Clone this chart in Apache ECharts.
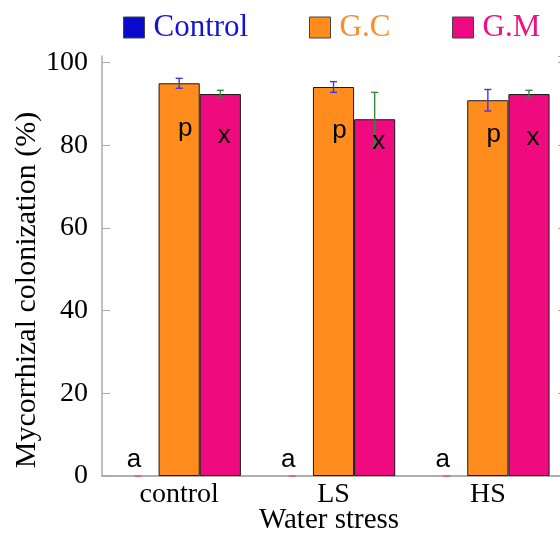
<!DOCTYPE html>
<html><head><meta charset="utf-8">
<script src="https://cdn.jsdelivr.net/npm/echarts@6/dist/echarts.min.js"></script>
<style>html,body{margin:0;padding:0;background:#fff}#c{width:560px;height:535px}</style>
</head><body><div id="c"></div>
<script>
// ---- data ----
const categories = ['control', 'LS', 'HS'];
const seriesNames = ['Control', 'G.C', 'G.M'];
const controlValues = [0, 0, 0];
const controlErrors = [0, 0, 0];
const gcValues = [95.0, 94.1, 90.9];
const gcErrors = [1.2, 1.3, 2.6];
const gmValues = [92.4, 86.3, 92.4];
const gmErrors = [0.9, 6.5, 0.9];
const controlLetters = ['a', 'a', 'a'];
const gcLetters = ['p', 'p', 'p'];
const gmLetters = ['x', 'x', 'x'];
const controlLetterY = [4, 4, 4];
const gcLetterY = [84.0, 83.5, 82.5];
const gmLetterY = [82.3, 80.9, 81.8];
const yTicks = [0, 20, 40, 60, 80, 100];
const yMax = 101.6;

// ---- styles ----
const SERIF = '"Liberation Serif", "Times New Roman", serif';
const SANS = '"Liberation Sans", Arial, sans-serif';
const colors = ['#0a0acc', '#ff8c1c', '#ef0a80'];
const textColors = ['#1414d6', '#ff8c2a', '#f0107f'];
const errColors = ['#e06a6a', '#3a3ae0', '#2f8a3a'];
const borderWidths = [0, 1, 1];
const letterDx = [-4, 6, 4];
const GAP = 0.2; // barCategoryGap

const values = [controlValues, gcValues, gmValues];
const errors = [controlErrors, gcErrors, gmErrors];
const letters = [controlLetters, gcLetters, gmLetters];
const letterY = [controlLetterY, gcLetterY, gmLetterY];

function barWidth(api) { return api.size([1, 0])[0] * (1 - GAP) / 3; }

function errRender(k) {
  return function (params, api) {
    const ci = api.value(0), v = api.value(1), e = api.value(2);
    const bw = barWidth(api);
    const cx = api.coord([ci, 0])[0] + (k - 1) * bw;
    const top = api.coord([ci, v + e])[1];
    const bot = api.coord([ci, Math.max(0, v - e)])[1];
    const hw = 3.5;
    const st = { stroke: errColors[k], lineWidth: 1.4 };
    return { type: 'group', children: [
      { type: 'line', shape: { x1: cx, y1: top, x2: cx, y2: bot }, style: st },
      { type: 'line', shape: { x1: cx - hw, y1: top, x2: cx + hw, y2: top }, style: st },
      { type: 'line', shape: { x1: cx - hw, y1: bot, x2: cx + hw, y2: bot }, style: st }
    ]};
  };
}
function letterRender(k) {
  return function (params, api) {
    const ci = api.value(0), y = api.value(1);
    const bw = barWidth(api);
    const pt = api.coord([ci, y]);
    return { type: 'text', x: pt[0] + (k - 1) * bw + letterDx[k], y: pt[1],
      style: { text: letters[k][params.dataIndex], fill: '#000', font: '26px ' + SANS,
        align: 'center', verticalAlign: 'middle', textAlign: 'center', textVerticalAlign: 'middle' } };
  };
}

const series = [];
for (let k = 0; k < 3; k++) {
  series.push({
    name: seriesNames[k], type: 'bar', xAxisIndex: 0, yAxisIndex: 0,
    data: values[k], barGap: '0%', barCategoryGap: (GAP * 100) + '%',
    itemStyle: { color: colors[k], borderColor: '#1a1a1a', borderWidth: borderWidths[k] },
    z: 2
  });
}
for (let k = 0; k < 3; k++) {
  series.push({
    name: 'err' + k, type: 'custom', xAxisIndex: 0, yAxisIndex: 0, z: 3,
    renderItem: errRender(k), silent: true,
    data: categories.map((c, i) => [i, values[k][i], errors[k][i]])
  });
}
for (let k = 0; k < 3; k++) {
  series.push({
    name: 'lab' + k, type: 'custom', xAxisIndex: 0, yAxisIndex: 0, z: 4,
    renderItem: letterRender(k), silent: true,
    data: categories.map((c, i) => [i, letterY[k][i]])
  });
}

const legendLeft = [118, 304, 447];
const legend = seriesNames.map((n, k) => ({
  data: [n], left: legendLeft[k], top: 7, itemWidth: 21, itemHeight: 21,
  icon: 'rect', selectedMode: false,
  itemStyle: { borderColor: '#444', borderWidth: 1 },
  textStyle: { color: textColors[k], fontSize: 31, fontFamily: SERIF, padding: [0, 0, 0, 4] }
}));

const gridLine = { lineStyle: { color: '#aaaaaa', width: 1.5 } };
const option = {
  animation: false,
  backgroundColor: '#fff',
  legend: legend,
  grid: { left: 102, right: -5, top: 56, bottom: 59, outerBoundsMode: 'none' },
  xAxis: [
    { type: 'category', data: categories, position: 'bottom',
      axisLine: gridLine, axisTick: { inside: true, length: 8, lineStyle: { color: '#aaa' } },
      axisLabel: { fontSize: 28, fontFamily: SERIF, color: '#000', margin: 5 },
      name: 'Water stress', nameLocation: 'middle', nameGap: 30, nameMoveOverlap: false,
      nameTextStyle: { fontSize: 29, fontFamily: SERIF, color: '#000', padding: [0, 9, 0, 0] } },
    { type: 'category', data: categories, position: 'top',
      axisLine: gridLine, axisTick: { inside: true, length: 8, lineStyle: { color: '#aaa' } },
      axisLabel: { show: false } }
  ],
  yAxis: [
    { type: 'value', min: 0, max: yMax, interval: 20, position: 'left',
      axisLine: { show: true, lineStyle: { color: '#aaaaaa', width: 1.5 } },
      axisTick: { show: true, inside: true, length: 8, lineStyle: { color: '#aaa' } },
      splitLine: { show: false },
      axisLabel: { fontSize: 28, fontFamily: SERIF, color: '#000', margin: 14, showMaxLabel: false,
        formatter: v => (yTicks.indexOf(v) >= 0 ? String(v) : '') },
      name: 'Mycorrhizal colonization (%)', nameLocation: 'middle', nameGap: 60, nameMoveOverlap: false,
      nameTextStyle: { fontSize: 30, fontFamily: SERIF, color: '#000', padding: [0, 48, 0, 0] } },
    { type: 'value', min: 0, max: yMax, interval: 20, position: 'right',
      axisLine: { show: true, lineStyle: { color: '#aaaaaa', width: 1.5 } },
      axisTick: { show: true, inside: true, length: 7, lineStyle: { color: '#aaa' } },
      splitLine: { show: false }, axisLabel: { show: false } }
  ],
  series: series
};
const chart = echarts.init(document.getElementById('c'), null, { renderer: 'canvas' });
chart.setOption(option);
</script></body></html>
